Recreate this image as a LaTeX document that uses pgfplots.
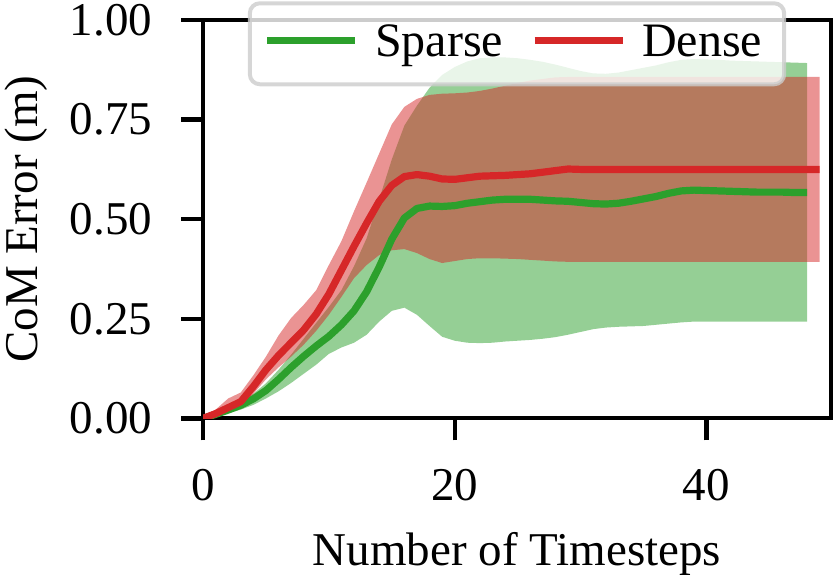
\documentclass[border=0pt]{standalone}
\usepackage{fontspec}
\setmainfont{Liberation Serif}
\usepackage{pgfplots}
\pgfplotsset{compat=1.18}
\usepgfplotslibrary{fillbetween}
\usepackage{pgfplotstable}

\definecolor{cgreen}{HTML}{2CA02C}
\definecolor{cred}{HTML}{D62728}
\definecolor{legedge}{HTML}{CCCCCC}
\newcommand\ff{\fontsize{11.75pt}{14pt}\selectfont}
\newcommand\lf{\fontsize{12pt}{14pt}\selectfont}

\pgfplotstableread{
t lo mean hi
0 0.000 0.000 0.000
1 0.005 0.010 0.014
2 0.013 0.021 0.028
3 0.022 0.033 0.042
4 0.034 0.049 0.062
5 0.050 0.070 0.088
6 0.068 0.098 0.122
7 0.089 0.128 0.160
8 0.112 0.156 0.200
9 0.135 0.182 0.240
10 0.162 0.206 0.280
11 0.178 0.235 0.322
12 0.190 0.270 0.382
13 0.210 0.318 0.452
14 0.243 0.380 0.550
15 0.270 0.450 0.650
16 0.278 0.503 0.735
17 0.260 0.527 0.785
18 0.232 0.533 0.830
19 0.205 0.532 0.862
20 0.195 0.534 0.882
21 0.190 0.540 0.896
22 0.189 0.544 0.904
23 0.190 0.548 0.906
24 0.193 0.550 0.906
25 0.195 0.550 0.904
26 0.197 0.550 0.900
27 0.200 0.548 0.895
28 0.204 0.546 0.888
29 0.210 0.545 0.880
30 0.217 0.542 0.872
31 0.224 0.539 0.866
32 0.228 0.538 0.865
33 0.230 0.540 0.868
34 0.231 0.545 0.874
35 0.232 0.551 0.880
36 0.235 0.557 0.886
37 0.238 0.565 0.894
38 0.241 0.571 0.900
39 0.243 0.573 0.902
40 0.243 0.572 0.901
41 0.243 0.571 0.900
42 0.243 0.570 0.898
43 0.243 0.569 0.897
44 0.243 0.568 0.896
45 0.243 0.568 0.895
46 0.243 0.568 0.894
47 0.243 0.567 0.893
48 0.243 0.567 0.892
}\sparse

\pgfplotstableread{
t lo mean hi
0 0.000 0.000 0.004
1 0.004 0.012 0.022
2 0.014 0.027 0.050
3 0.028 0.042 0.065
4 0.062 0.080 0.108
5 0.098 0.122 0.155
6 0.128 0.158 0.208
7 0.155 0.190 0.252
8 0.185 0.222 0.285
9 0.220 0.262 0.322
10 0.260 0.312 0.385
11 0.305 0.372 0.445
12 0.352 0.432 0.520
13 0.385 0.490 0.592
14 0.410 0.545 0.665
15 0.422 0.585 0.738
16 0.425 0.607 0.782
17 0.415 0.612 0.802
18 0.400 0.608 0.812
19 0.390 0.601 0.815
20 0.395 0.600 0.816
21 0.400 0.604 0.818
22 0.402 0.608 0.822
23 0.402 0.609 0.828
24 0.401 0.610 0.835
25 0.400 0.612 0.842
26 0.398 0.614 0.848
27 0.396 0.618 0.852
28 0.394 0.622 0.856
29 0.393 0.626 0.857
30 0.393 0.625 0.857
31 0.393 0.625 0.857
32 0.393 0.625 0.857
33 0.393 0.625 0.857
34 0.393 0.625 0.857
35 0.393 0.625 0.857
36 0.393 0.625 0.857
37 0.393 0.625 0.857
38 0.393 0.625 0.857
39 0.393 0.625 0.857
40 0.393 0.625 0.857
41 0.393 0.625 0.857
42 0.393 0.625 0.857
43 0.393 0.625 0.857
44 0.393 0.625 0.857
45 0.393 0.625 0.857
46 0.393 0.625 0.857
47 0.393 0.625 0.857
48 0.393 0.625 0.857
49 0.393 0.625 0.857
}\dense

\begin{document}
\begin{tikzpicture}
\begin{axis}[
  scale only axis, width=157pt, height=99.6pt,
  xmin=0, xmax=49.9, ymin=0, ymax=1,
  xtick={0,20,40}, xticklabels={0,20,40},
  ytick={0,0.25,0.5,0.75,1}, yticklabels={0.00,0.25,0.50,0.75,1.00},
  tick pos=left, tick align=outside,
  major tick length=5.5pt,
  every tick/.style={black, line width=1.1pt},
  axis line style={black, line width=1pt},
  tick label style={font=\ff},
  xticklabel style={anchor=north, inner sep=0pt, yshift=-6.9pt},
  yticklabel style={anchor=east, inner sep=0pt, xshift=-7pt},
  xlabel={Number of Timesteps},
  ylabel={CoM Error (m)},
  label style={font=\ff},
  xlabel style={at={(axis description cs:0.5,-0.370)}, anchor=base, inner sep=0pt},
  ylabel style={at={(axis description cs:-0.317,0.5)}, anchor=north, inner sep=0pt},
  legend columns=2,
  legend image code/.code={\draw[#1, draw opacity=1] (0pt,0.8pt) -- (22pt,0.8pt);},
  legend style={at={(axis description cs:0.5,1.047)}, anchor=north,
    draw=legedge, line width=1pt, rounded corners=2.5pt,
    fill=white, fill opacity=0.8, draw opacity=0.8, text opacity=1,
    font=\lf, inner xsep=3.5pt, inner ysep=3.4pt,
    /tikz/every odd column/.append style={column sep=2pt},
    /tikz/every even column/.append style={column sep=5pt}},
]
\addplot[name path=gu, draw=none, forget plot] table[x=t, y=hi] {\sparse};
\addplot[name path=gl, draw=none, forget plot] table[x=t, y=lo] {\sparse};
\addplot[fill=cgreen, fill opacity=0.5, draw=none, forget plot] fill between[of=gu and gl];
\addplot[name path=ru, draw=none, forget plot] table[x=t, y=hi] {\dense};
\addplot[name path=rl, draw=none, forget plot] table[x=t, y=lo] {\dense};
\addplot[fill=cred, fill opacity=0.5, draw=none, forget plot] fill between[of=ru and rl];
\addplot[cgreen, line width=1.8pt, line join=round] table[x=t, y=mean] {\sparse};
\addlegendentry{Sparse}
\addplot[cred, line width=1.8pt, line join=round] table[x=t, y=mean] {\dense};
\addlegendentry{Dense}
\end{axis}
\pgfresetboundingbox
\path[use as bounding box] (-50.75pt,-40.4pt) rectangle (157.5pt,104.6pt);
\end{tikzpicture}
\end{document}
